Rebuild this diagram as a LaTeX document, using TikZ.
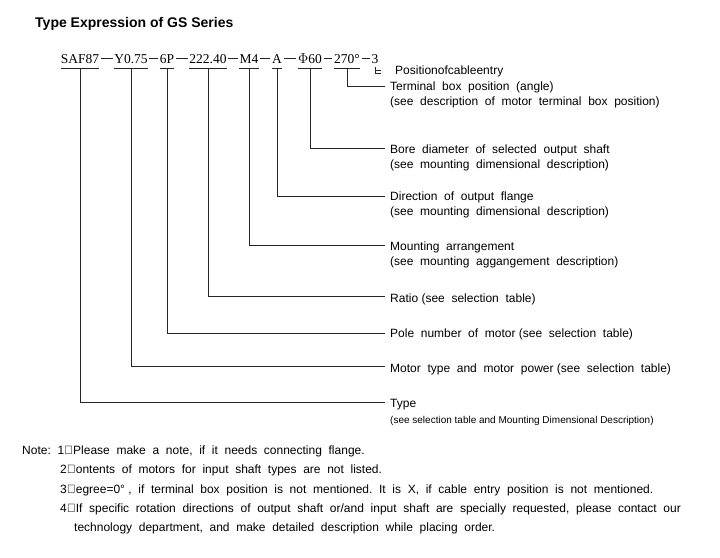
\documentclass[tikz,border=0pt]{standalone}
\usepackage{fontspec}
\setmainfont{Liberation Sans}
\newfontfamily\codefont{Liberation Serif}
\begin{document}
\begin{tikzpicture}[x=1pt,y=-1pt,
  lbl/.style={anchor=west,inner sep=0pt,font=\fontsize{12}{15}\selectfont,align=left},
  small/.style={anchor=west,inner sep=0pt,font=\fontsize{10}{12}\selectfont},
  code/.style={anchor=base,inner sep=0pt,font=\codefont\fontsize{13.5}{15}\selectfont},
  ln/.style={line width=0.7pt,black!85},
  note/.style={anchor=west,inner sep=0pt,font=\fontsize{12}{15}\selectfont}]
\useasboundingbox (0,0) rectangle (720,557);
\node[anchor=west,inner sep=0pt,font=\bfseries\fontsize{14}{16}\selectfont] (title) at (35,24) {Type Expression of GS Series};
% code tokens
\node[code] (t1) at (80,63) {SAF87};
\node[code] (t2) at (131,63) {Y0.75};
\node[code] (t3) at (167,63) {6P};
\node[code] (t4) at (208,63) {222.40};
\node[code] (t5) at (249,63) {M4};
\node[code] (t6) at (277,63) {A};
\node[code] (t7) at (310,63) {$\Phi$60};
\node[code] (t8) at (347,63) {270\textdegree};
\node[code] (t9) at (375,63) {3};
\foreach \a/\b in {t1/t2,t2/t3,t3/t4,t4/t5,t5/t6,t6/t7,t7/t8,t8/t9}
  \draw[ln] ([xshift=1.5pt,yshift=4.5pt]\a.base east) -- ([xshift=-1.5pt,yshift=4.5pt]\b.base west);
\foreach \t in {t1,t2,t3,t4,t5,t6,t7,t8}
  \draw[ln] ([yshift=-5pt]\t.base west) -- ([yshift=-5pt]\t.base east);
% labels
\node[lbl] (l9) at (395,71) {Positionofcableentry};
\node[lbl,anchor=north west] (l8) at (390,82) {Terminal\ \ box\ \ position\ \ (angle)\\(see\ \ description\ \ of\ \ motor\ \ terminal\ \ box\ \ position)};
\node[lbl,anchor=north west] (l7) at (390,145) {Bore\ \ diameter\ \ of\ \ selected\ \ output\ \ shaft\\(see\ \ mounting\ \ dimensional\ \ description)};
\node[lbl,anchor=north west] (l6) at (390,192) {Direction\ \ of\ \ output\ \ flange\\(see\ \ mounting\ \ dimensional\ \ description)};
\node[lbl,anchor=north west] (l5) at (390,242) {Mounting\ \ arrangement\\(see\ \ mounting\ \ aggangement\ \ description)};
\node[lbl] (l4) at (390,299) {Ratio\ (see\ \ selection\ \ table)};
\node[lbl] (l3) at (390,334) {Pole\ \ number\ \ of\ \ motor\ (see\ \ selection\ \ table)};
\node[lbl] (l2) at (390,369) {Motor\ \ type\ \ and\ \ motor\ \ power\ (see\ \ selection\ \ table)};
\node[lbl] (l1) at (390,405) {Type};
\node[small] (l1b) at (390,421) {(see\ selection\ table\ and\ Mounting\ Dimensional\ Description)};
% connectors
\coordinate (c8) at (385,86); \coordinate (c7) at (385,148); \coordinate (c6) at (385,196);
\coordinate (c5) at (385,245); \coordinate (c4) at (385,296); \coordinate (c3) at (385,333);
\coordinate (c2) at (385,366); \coordinate (c1) at (385,402);
\foreach \i in {1,...,8}
  \draw[ln] ([yshift=-5pt]t\i.base) |- (c\i);
\draw[ln] (375,67) -- (375,73) -- (381,73);
\draw[ln] (375,70) -- (381,70);
% notes
\node[note] (n0) at (22,451) {Note:\ \ 1\char"3001Please\ \ make\ \ a\ \ note,\ \ if\ \ it\ \ needs\ \ connecting\ \ flange.};
\node[note] (n2) at (60,470) {2\char"3001Contents\ \ of\ \ motors\ \ for\ \ input\ \ shaft\ \ types\ \ are\ \ not\ \ listed.};
\node[note] (n3) at (60,490) {3\char"3001Degree=0\textdegree\ ,\ \ if\ \ terminal\ \ box\ \ position\ \ is\ \ not\ \ mentioned.\ \ It\ \ is\ \ X,\ \ if\ \ cable\ \ entry\ \ position\ \ is\ \ not\ \ mentioned.};
\node[note] (n4) at (60,509) {4\char"3001If\ \ specific\ \ rotation\ \ directions\ \ of\ \ output\ \ shaft\ \ or/and\ \ input\ \ shaft\ \ are\ \ specially\ \ requested,\ \ please\ \ contact\ \ our};
\node[note] (n5) at (74,528) {technology\ \ department,\ \ and\ \ make\ \ detailed\ \ description\ \ while\ \ placing\ \ order.};
\end{tikzpicture}
\end{document}
